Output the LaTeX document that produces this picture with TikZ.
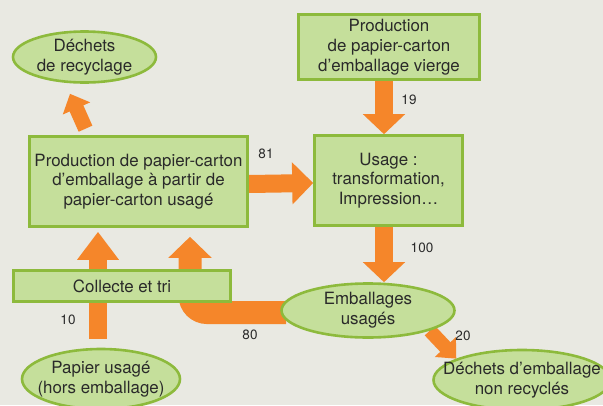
\documentclass[tikz,border=0pt]{standalone}
\usepackage{fontspec}
\setmainfont{TeX Gyre Heros}
\usetikzlibrary{shapes.geometric,arrows.meta,calc}
\definecolor{bgc}{HTML}{E9E9E2}
\definecolor{boxfill}{HTML}{C5DF9B}
\definecolor{boxline}{HTML}{8DBA3C}
\definecolor{flowc}{HTML}{F5862A}
\definecolor{txt}{HTML}{2A2A2A}
\pgfdeclarelayer{backdrop}
\pgfdeclarelayer{flows}
\pgfsetlayers{backdrop,flows,main}
\begin{document}
\begin{tikzpicture}[x=1pt,y=-1pt,
  base/.style={fill=boxfill,draw=boxline,line width=2.6pt,text=txt,align=center,
    font=\fontsize{16.9}{19.7}\selectfont},
  box/.style={base,rectangle,inner sep=0pt},
  oval/.style={base,ellipse,inner sep=-30pt},
  flowline/.style={draw=flowc,line width=#1},
  num/.style={text=txt,font=\fontsize{13.5}{16}\selectfont,inner sep=0pt}
]
\useasboundingbox (0,0) rectangle (603,405);
\clip (0,0) rectangle (603,405);
\begin{pgfonlayer}{backdrop}
  \fill[bgc] (0,0) rectangle (603,405);
\end{pgfonlayer}

% nodes
\node[oval,minimum width=143pt,minimum height=51pt] (rec) at (84.5,57) {Déchets\\de recyclage};
\node[box,minimum width=181pt,minimum height=65pt] (vierge) at (389,47) {Production\\de papier-carton\\d’emballage vierge};
\node[box,minimum width=218pt,minimum height=90pt] (recyc) at (138.5,181.5) {Production de papier-carton\\d’emballage à partir de\\papier-carton usagé};
\node[box,minimum width=148pt,minimum height=90pt] (usage) at (388.5,180.5) {Usage :\\transformation,\\Impression…};
\node[box,minimum width=217pt,minimum height=31pt] (collecte) at (122,286) {Collecte et tri};
\node[oval,minimum width=173pt,minimum height=54pt] (emb) at (368,310.5) {Emballages\\usagés};
\node[oval,minimum width=177pt,minimum height=60pt] (dechets) at (522,380) {Déchets d’emballage\\non recyclés};
\node[oval,minimum width=158pt,minimum height=60pt] (papier) at (101,379) {Papier usagé\\(hors emballage)};

% flows
\begin{pgfonlayer}{flows}
  \draw[flowline=18pt,-{Triangle[width=41pt,length=20pt]}]
    ($(vierge.south)+(-5,0)$) -- ($(usage.north)+(-4.5,0)$);
  \draw[flowline=18pt,-{Triangle[width=41pt,length=21pt]}]
    ($(recyc.east)+(0,2.5)$) -- ($(usage.west)+(0,2.5)$);
  \coordinate (u100) at ($(usage.south)+(-4.5,0)$);
  \draw[flowline=18pt,-{Triangle[width=41pt,length=20pt]}]
    (u100) -- (u100 |- emb.north);
  \coordinate (p10) at ($(papier.north)+(-3,-9)$);
  \coordinate (r10) at ($(recyc.south)+(-40.5,4)$);
  \draw[flowline=18pt,-{Triangle[width=40pt,length=28pt]}]
    (p10) -- (p10 |- r10);
  \draw[flowline=23pt,rounded corners=17pt,-{Triangle[width=42pt,length=21pt]}]
    ($(emb.west)+(6,2)$) -| ($(recyc.south)+(51.5,9)$);
  \draw[flowline=15pt,-{Triangle[width=29pt,length=16pt]}]
    ($(recyc.north)+(-53,-6.5)$) -- ($(rec.south)+(-14.5,10)$);
  \draw[flowline=14pt,-{Triangle[width=28pt,length=16pt]}]
    (emb.-18) -- (dechets.162);
\end{pgfonlayer}

% numbers
\node[num] (n19) at (409,100) {19};
\node[num] (n81) at (266,154) {81};
\node[num] (n100) at (422,248) {100};
\node[num] (n10) at (68,320) {10};
\node[num] (n80) at (250,335) {80};
\node[num] (n20) at (463,336) {20};
\end{tikzpicture}
\end{document}
